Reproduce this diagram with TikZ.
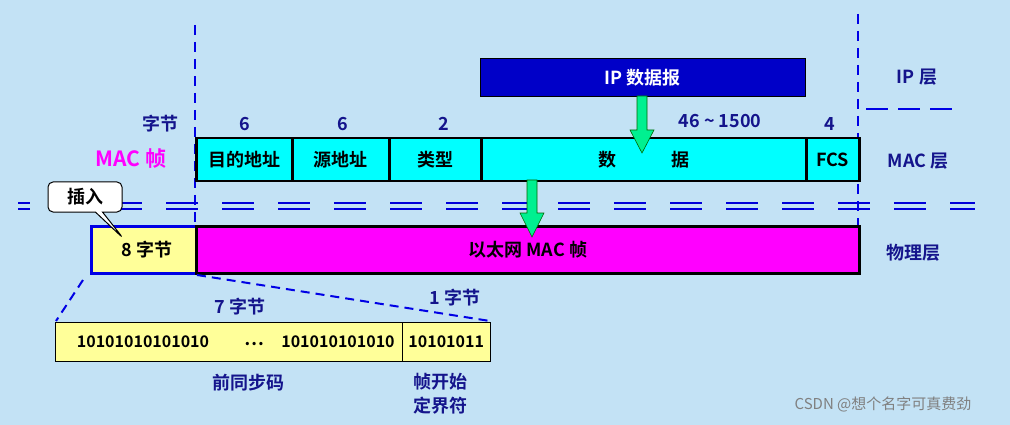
\documentclass[tikz,border=0pt]{standalone}
\usepackage{fontspec}
\setmainfont{Noto Sans CJK SC}[BoldFont={Noto Sans CJK SC Bold}]
\usetikzlibrary{arrows.meta,shapes.callouts}
\definecolor{bg}{HTML}{C3E2F5}
\definecolor{lbl}{HTML}{14148C}
\definecolor{ipb}{HTML}{0000C8}
\definecolor{grn}{HTML}{00F090}
\definecolor{yel}{HTML}{FFFF99}
\definecolor{cy}{HTML}{00FFFF}
\definecolor{mg}{HTML}{FF00FF}
\begin{document}
\begin{tikzpicture}[x=1pt,y=-1pt,
  cell/.style={draw=black,line width=2.5pt,fill=cy},
  t/.style={font=\bfseries\fontsize{18}{20}\selectfont},
  lab/.style={t,text=lbl},
  vdash/.style={draw=blue!90!black,line width=2pt,dash pattern=on 10pt off 7pt},
  garrow/.style={draw=black!60!green,fill=grn,line width=0.6pt}]
\fill[bg] (0,0) rectangle (1010,425);
\useasboundingbox (0,0) rectangle (1010,425);
% double dashed lines
\foreach \yy in {203,209}
  \draw[blue!85!black,line width=2pt,dash pattern=on 32pt off 24pt,dash phase=20pt] (18,\yy) -- (975,\yy);
% vertical dashed lines
\draw[vdash] (195,25) -- (195,272);
\draw[vdash] (858,14) -- (858,230);
\draw[vdash,dash pattern=on 22pt off 10pt] (866,109) -- (955,109);
% IP box
\node[draw=black,fill=ipb,minimum width=325pt,minimum height=38pt,anchor=north west,inner sep=0,t,text=white] (ip) at (480,58) {IP 数据报};
% MAC frame cells
\node[cell,anchor=north west,minimum width=96pt,minimum height=43pt,inner sep=0,t] (c1) at (195,137) {目的地址};
\node[cell,anchor=north west,minimum width=97pt,minimum height=43pt,inner sep=0,t] (c2) at (291,137) {源地址};
\node[cell,anchor=north west,minimum width=92pt,minimum height=43pt,inner sep=0,t] (c3) at (388,137) {类型};
\node[cell,anchor=north west,minimum width=325pt,minimum height=43pt,inner sep=0] (c4) at (480,137) {};
\node[cell,anchor=north west,minimum width=53pt,minimum height=43pt,inner sep=0,t] (c5) at (805,137) {FCS};
\node[t] (d1) at (607,160) {数};
\node[t] (d2) at (680,160) {据};
% numbers
\node[lab] (n0) at (160,124) {字节};
\node[lab] (n1) at (245,124) {6};
\node[lab] (n2) at (343,124) {6};
\node[lab] (n3) at (444,124) {2};
\node[lab] (n4) at (720,121) {46 \textasciitilde{} 1500};
\node[lab] (n5) at (830,124) {4};
\node[t,text=mg,font=\bfseries\fontsize{21}{23}\selectfont] (mf) at (131,159) {MAC 帧};
% layer labels
\node[lab] (l1) at (917,77) {IP 层};
\node[lab] (l2) at (918,161) {MAC 层};
\node[lab] (l3) at (913,253) {物理层};
% physical row
\node[draw=blue!90!black,line width=2.5pt,fill=yel,anchor=north west,minimum width=105pt,minimum height=47pt,inner sep=0,t] (p8) at (90,225) {\hspace{6pt}8 字节};
\node[draw=black,line width=2.5pt,fill=mg,anchor=north west,minimum width=663pt,minimum height=47pt,inner sep=0,t] (eth) at (195,225) {以太网 MAC 帧};
% green arrows
\draw[garrow] (637,96) -- (647,96) -- (647,130) -- (654,130) -- (642,153) -- (630,130) -- (637,130) -- cycle;
\draw[garrow] (527,180) -- (537,180) -- (537,213) -- (544,213) -- (532,237) -- (520,213) -- (527,213) -- cycle;
% callout
\node[rectangle callout,rounded corners=5pt,draw=black,line width=1pt,fill=white,minimum width=74pt,minimum height=30pt,inner sep=0,t,callout absolute pointer={(123,238)}] (ins) at (85,197) {插入};
% preamble
\node[draw=black,fill=yel,anchor=north west,minimum width=347pt,minimum height=39pt,inner sep=0] (pre) at (55,322) {};
\node[draw=black,fill=yel,anchor=north west,minimum width=88pt,minimum height=39pt,inner sep=0,font=\bfseries\fontsize{16}{18}\selectfont] (sfd) at (402,322) {10101011};
\node[font=\bfseries\fontsize{16}{18}\selectfont] (b1) at (143,342) {10101010101010};
\node[t] (dots) at (254,344) {\dots};
\node[font=\bfseries\fontsize{16}{18}\selectfont] (b2) at (338,342) {101010101010};
\coordinate (z1) at (83,280);
\coordinate (z2) at (56,321);
\coordinate (z3) at (197,275);
\coordinate (z4) at (490,321);
\draw[vdash,dash pattern=on 9pt off 6pt] (z1) -- (z2);
\draw[vdash,dash pattern=on 9pt off 6pt] (z3) -- (z4);
\node[lab] (s7) at (240,307) {7 字节};
\node[lab] (s1) at (455,298) {1 字节};
\node[lab] (pr) at (248,383) {前同步码};
\node[lab,align=center,font=\bfseries\fontsize{18}{24}\selectfont] (sf) at (440,394) {帧开始\\定界符};
\node[text=gray,font=\fontsize{15}{17}\selectfont] (wm) at (883,404) {CSDN @想个名字可真费劲};
\end{tikzpicture}
\end{document}
